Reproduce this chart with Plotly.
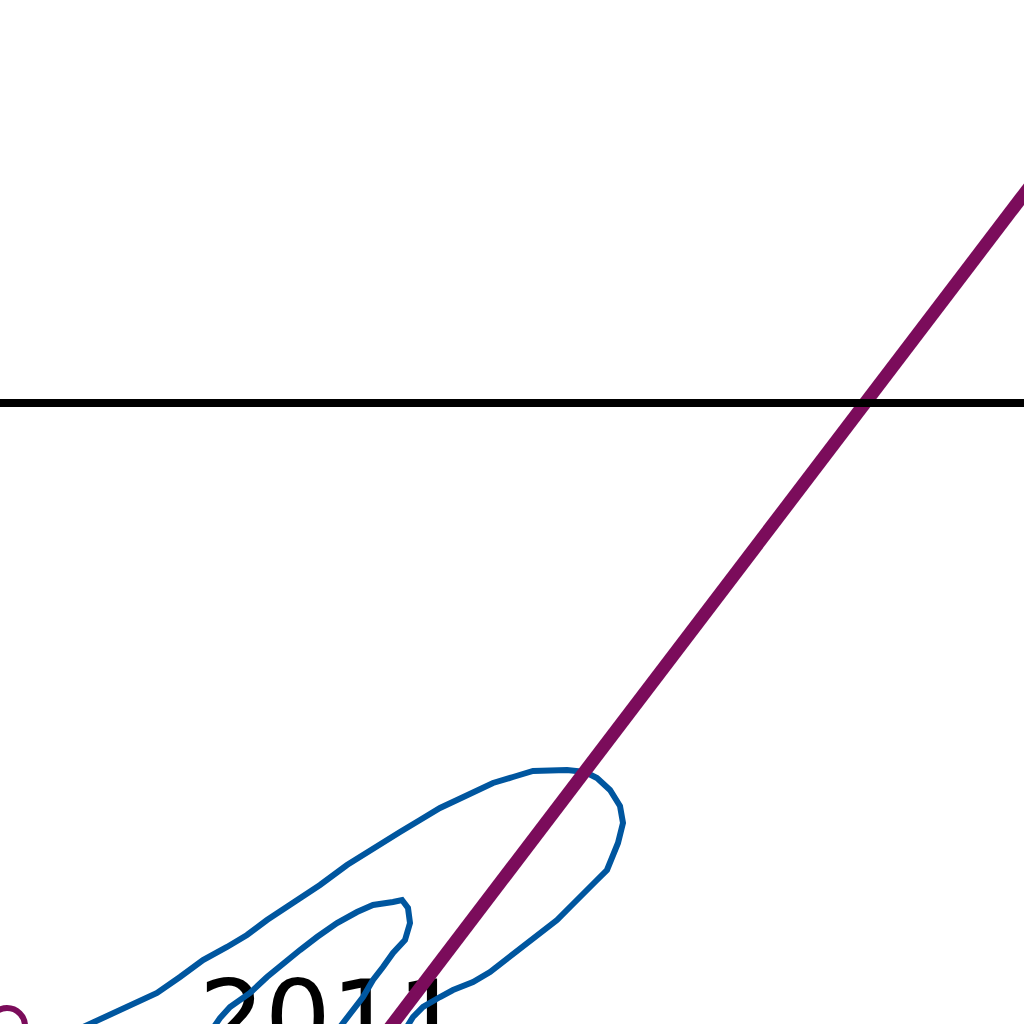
import plotly.graph_objects as go

# values (x to the right, y upwards, units = 1/100 of the frame)
trend_x = [3.60, 10.50]
trend_y = [-0.43, 8.64]

level_x = [-1.0, 11.5]
level_y = [6.21, 6.21]

path_x = [0.55, 0.93, 1.13, 1.33, 1.57, 1.80, 2.03, 2.27, 2.47, 2.67, 2.93, 3.20, 3.47,
          3.73, 4.00, 4.20, 4.40, 4.57, 4.73, 4.93, 5.13, 5.33, 5.67, 5.85, 5.97, 6.10,
          6.20, 6.23, 6.18, 6.13, 6.07, 5.97, 5.83, 5.70, 5.57, 5.40, 5.23, 5.07, 4.90,
          4.73, 4.53, 4.40, 4.23, 4.13, 4.05, 3.98,
          2.05, 2.05, 2.20, 2.30, 2.50, 2.67, 2.83, 3.00, 3.17, 3.37, 3.57, 3.73, 3.93,
          4.02, 4.08, 4.10, 4.05, 3.93, 3.83, 3.73, 3.63, 3.53, 3.40, 3.30]
path_y = [-0.16, 0.02, 0.11, 0.21, 0.31, 0.47, 0.64, 0.77, 0.89, 1.04, 1.21, 1.39, 1.59,
          1.76, 1.92, 2.04, 2.16, 2.24, 2.32, 2.41, 2.47, 2.53, 2.54, 2.52, 2.46, 2.34,
          2.18, 2.01, 1.81, 1.67, 1.54, 1.44, 1.31, 1.17, 1.04, 0.91, 0.77, 0.64, 0.52,
          0.42, 0.34, 0.27, 0.17, 0.07, -0.06, -0.21,
          -0.21, -0.16, 0.06, 0.17, 0.31, 0.47, 0.61, 0.74, 0.87, 1.01, 1.12, 1.19, 1.22,
          1.24, 1.16, 1.01, 0.84, 0.71, 0.57, 0.44, 0.27, 0.14, -0.01, -0.16]

dot_x = [0.07]
dot_y = [-0.02]

label_x = [3.31]
label_y = [-0.04]
label_text = ["2011"]

fig = go.Figure()

# year label sits under the lines
fig.add_trace(go.Scatter(
    x=label_x, y=label_y, text=label_text, mode="text",
    textposition="middle center",
    textfont=dict(family="DejaVu Sans", size=104, color="#000000"),
    hoverinfo="skip", showlegend=False,
))

fig.add_trace(go.Scatter(
    x=path_x, y=path_y, mode="lines",
    line=dict(color="#00569F", width=6),
    showlegend=False,
))

fig.add_trace(go.Scatter(
    x=dot_x, y=dot_y, mode="markers",
    marker=dict(symbol="circle-open", size=36, color="#7B0C5B",
                line=dict(color="#7B0C5B", width=6)),
    showlegend=False,
))

fig.add_trace(go.Scatter(
    x=trend_x, y=trend_y, mode="lines",
    line=dict(color="#7B0C5B", width=13),
    showlegend=False,
))

fig.add_trace(go.Scatter(
    x=level_x, y=level_y, mode="lines",
    line=dict(color="#000000", width=8),
    showlegend=False,
))

fig.update_layout(
    width=1024, height=1024,
    margin=dict(l=0, r=0, t=0, b=0),
    paper_bgcolor="white", plot_bgcolor="white",
)
fig.update_xaxes(range=[0, 10.24], visible=False, fixedrange=True)
fig.update_yaxes(range=[0, 10.24], visible=False, fixedrange=True)

# drop the browser's default page margin so the figure fills the window
fig.write_html(
    "out.html",
    config={"displayModeBar": False},
    post_script="document.body.style.margin='0';document.body.style.overflow='hidden';",
)
